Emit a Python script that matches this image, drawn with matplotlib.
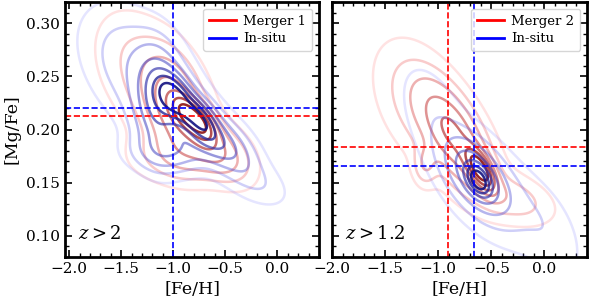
import numpy as np
import matplotlib
matplotlib.use("Agg")
import matplotlib.pyplot as plt
from matplotlib.colors import to_rgb

plt.rcParams['font.family'] = ['DejaVu Serif']
plt.rcParams['mathtext.fontset'] = 'dejavuserif'

# Gaussian components: x, y, sx, sy, rho, weight
m1_x = [-0.87, -0.72, -1.00, -0.60, -1.30, -0.90, -1.05]
m1_y = [0.215, 0.205, 0.222, 0.180, 0.260, 0.175, 0.222]
m1_sx = [0.10, 0.10, 0.18, 0.20, 0.28, 0.30, 0.45]
m1_sy = [0.012, 0.012, 0.030, 0.018, 0.035, 0.015, 0.045]
m1_rho = [-0.50, -0.50, -0.30, -0.50, -0.40, 0.0, -0.50]
m1_w = [1.0, 1.0, 0.6, 0.45, 0.15, 0.25, 0.08]

ins1_x = [-0.98, -0.75, -1.15, -0.55, -0.20, -1.35, -1.00, -1.10]
ins1_y = [0.230, 0.210, 0.225, 0.188, 0.150, 0.260, 0.180, 0.230]
ins1_sx = [0.12, 0.12, 0.14, 0.20, 0.20, 0.30, 0.25, 0.50]
ins1_sy = [0.015, 0.014, 0.030, 0.018, 0.015, 0.035, 0.012, 0.048]
ins1_rho = [-0.40, -0.50, -0.10, -0.60, -0.50, -0.40, 0.0, -0.60]
ins1_w = [1.0, 0.9, 0.6, 0.5, 0.1, 0.15, 0.3, 0.09]

m2_x = [-0.60, -0.85, -1.12, -0.30, -1.20, -0.80]
m2_y = [0.162, 0.195, 0.167, 0.135, 0.228, 0.180]
m2_sx = [0.09, 0.20, 0.07, 0.24, 0.25, 0.40]
m2_sy = [0.013, 0.030, 0.012, 0.015, 0.035, 0.045]
m2_rho = [-0.60, -0.60, 0.0, -0.40, -0.40, -0.60]
m2_w = [1.0, 0.5, 0.17, 0.14, 0.13, 0.045]

ins2_x = [-0.62, -0.65, -0.45, -1.05, 0.08, -0.60]
ins2_y = [0.152, 0.158, 0.135, 0.215, 0.100, 0.160]
ins2_sx = [0.07, 0.18, 0.30, 0.22, 0.20, 0.45]
ins2_sy = [0.009, 0.022, 0.030, 0.035, 0.030, 0.050]
ins2_rho = [-0.40, -0.50, -0.50, -0.50, -0.50, -0.60]
ins2_w = [1.0, 0.6, 0.14, 0.09, 0.08, 0.045]

# medians (dashed lines)
med1_merger = (None, 0.2125)
med1_insitu = (-1.0, 0.2198)
med2_merger = (-0.906, 0.1833)
med2_insitu = (-0.66, 0.1654)

levels = [0.03, 0.08, 0.16, 0.28, 0.42, 0.58, 0.76]


def density(X, Y, cx, cy, sx, sy, rho, w):
    Z = np.zeros_like(X)
    for a, b, s1, s2, r, ww in zip(cx, cy, sx, sy, rho, w):
        u = (X - a) / s1
        v = (Y - b) / s2
        q = (u**2 - 2 * r * u * v + v**2) / (1 - r**2)
        Z += ww * np.exp(-0.5 * q)
    return Z / Z.max()


def level_colors(light, dark):
    l, d = np.array(to_rgb(light)), np.array(to_rgb(dark))
    n = len(levels)
    cols = []
    for i in range(n):
        t = i / (n - 1)
        c = l * (1 - t) + d * t
        a = 0.18 + 0.72 * t
        cols.append((*c, a))
    return cols


xg = np.linspace(-2.2, 0.6, 400)
yg = np.linspace(0.05, 0.35, 400)
X, Y = np.meshgrid(xg, yg)

fig = plt.figure(figsize=(5.98, 3.03), dpi=100)
ax1 = fig.add_axes([65 / 598, 46 / 303, 254 / 598, 255 / 303])
ax2 = fig.add_axes([332 / 598, 46 / 303, 255 / 598, 255 / 303])

red_cols = level_colors('#ff6060', '#8b1010')
blue_cols = level_colors('#7070ff', '#101080')

panels = [
    (ax1, (m1_x, m1_y, m1_sx, m1_sy, m1_rho, m1_w),
     (ins1_x, ins1_y, ins1_sx, ins1_sy, ins1_rho, ins1_w),
     med1_merger, med1_insitu, 'Merger 1', r'$z > 2$', (-2.04, 0.4)),
    (ax2, (m2_x, m2_y, m2_sx, m2_sy, m2_rho, m2_w),
     (ins2_x, ins2_y, ins2_sx, ins2_sy, ins2_rho, ins2_w),
     med2_merger, med2_insitu, 'Merger 2', r'$z > 1.2$', (-2.0, 0.4)),
]

for ax, mpar, ipar, mmed, imed, mlabel, ztext, xlim in panels:
    Zm = density(X, Y, *mpar)
    Zi = density(X, Y, *ipar)
    ax.contour(X, Y, Zm, levels=levels, colors=red_cols, linewidths=1.8)
    ax.contour(X, Y, Zi, levels=levels, colors=blue_cols, linewidths=1.8)

    if mmed[0] is not None:
        ax.axvline(mmed[0], color='red', ls='--', lw=1.2)
    ax.axhline(mmed[1], color='red', ls='--', lw=1.2)
    ax.axvline(imed[0], color='blue', ls='--', lw=1.2)
    ax.axhline(imed[1], color='blue', ls='--', lw=1.2)

    ax.plot([], [], color='red', lw=2, label=mlabel)
    ax.plot([], [], color='blue', lw=2, label='In-situ')
    ax.legend(loc='upper right', fontsize=9.5, handlelength=2.0,
              handletextpad=0.6, borderpad=0.45, labelspacing=0.35)

    ax.text(0.05, 0.07, ztext, transform=ax.transAxes, fontsize=13)

    ax.set_xlim(*xlim)
    ax.set_ylim(0.08, 0.32)
    ax.set_xticks([-2.0, -1.5, -1.0, -0.5, 0.0])
    ax.set_yticks([0.10, 0.15, 0.20, 0.25, 0.30])
    ax.minorticks_on()
    ax.tick_params(which='both', direction='in', top=True, right=True,
                   labelsize=11)
    ax.tick_params(which='major', length=5, width=1.2)
    ax.tick_params(which='minor', length=3, width=1.0)
    for s in ax.spines.values():
        s.set_linewidth(2)
    ax.set_xlabel('[Fe/H]', fontsize=12.5)

ax1.set_ylabel('[Mg/Fe]', fontsize=12.5)
ax2.set_yticklabels([])

fig.savefig('out.png', dpi=100)
